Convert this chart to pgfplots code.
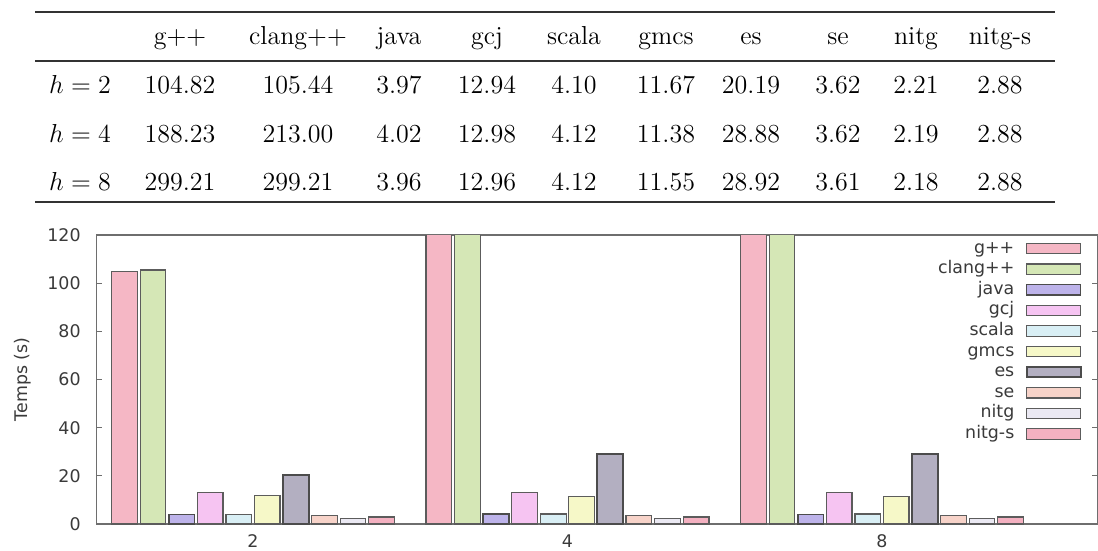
\documentclass[border=0pt]{standalone}
\usepackage{fix-cm}
\usepackage{pgfplots}
\pgfplotsset{compat=1.18}
\usepackage{fontspec}
\newfontfamily\dejavu{DejaVu Sans}
\definecolor{cgpp}{HTML}{F5B7C5}
\definecolor{cclang}{HTML}{D5E7B6}
\definecolor{cjava}{HTML}{BDB3EA}
\definecolor{cgcj}{HTML}{F6C4F2}
\definecolor{cscala}{HTML}{D9EFF5}
\definecolor{cgmcs}{HTML}{F6F8C8}
\definecolor{ces}{HTML}{B3AFC1}
\definecolor{cse}{HTML}{F7D3C9}
\definecolor{cnitg}{HTML}{EBE9F3}
\definecolor{cnitgs}{HTML}{F4B1C1}
\definecolor{axgray}{HTML}{6E6E6E}
\definecolor{txgray}{HTML}{3A3A3A}
\definecolor{bdgray}{HTML}{5C5C5C}
\newcommand\chartfont{\dejavu\fontsize{8.7}{10}\selectfont}
\begin{document}
\begin{tikzpicture}
\useasboundingbox (0,0) rectangle (549pt,-275.5pt);
% ---------- table ----------
\begin{scope}[every node/.style={anchor=base, inner sep=0pt, font=\fontsize{13}{15}\selectfont}]
\draw[line width=0.9pt, black!80] (17.5pt,-6pt) -- (527.5pt,-6pt);
\draw[line width=0.6pt, black!80] (17.5pt,-30.5pt) -- (527.5pt,-30.5pt);
\draw[line width=0.9pt, black!80] (17.5pt,-101pt) -- (527.5pt,-101pt);
\foreach \x/\t in {90/g++, 149/clang++, 199.5/java, 243.5/gcj, 287/scala, 333/gmcs, 375.5/es, 419/se, 458/nitg, 500/nitg-s}
  \node at (\x pt,-22.5pt) {\t};
\node at (40pt,-47pt) {$h=2$};
\node at (40pt,-71.3pt) {$h=4$};
\node at (40pt,-95.3pt) {$h=8$};
\foreach \x/\t in {90/104.82, 149/105.44, 199.5/3.97, 243.5/12.94, 287/4.10, 333/11.67, 375.5/20.19, 419/3.62, 458/2.21, 500/2.88}
  \node at (\x pt,-47pt) {\t};
\foreach \x/\t in {90/188.23, 149/213.00, 199.5/4.02, 243.5/12.98, 287/4.12, 333/11.38, 375.5/28.88, 419/3.62, 458/2.19, 500/2.88}
  \node at (\x pt,-71.3pt) {\t};
\foreach \x/\t in {90/299.21, 149/299.21, 199.5/3.96, 243.5/12.96, 287/4.12, 333/11.55, 375.5/28.92, 419/3.61, 458/2.18, 500/2.88}
  \node at (\x pt,-95.3pt) {\t};
\end{scope}
% ---------- chart ----------
\begin{axis}[
  at={(48.35pt,-262pt)}, anchor=south west,
  scale only axis, width=500.2pt, height=144.5pt,
  xmin=-0.497, xmax=2.684, ymin=0, ymax=120,
  xtick={0,1,2}, xticklabels={2,4,8},
  ytick={0,20,...,120},
  /pgf/number format/assume math mode=true,
  bar width=0.0818,
  axis line style={color=axgray, line width=0.6pt},
  tick style={color=axgray, line width=0.6pt},
  major tick length=2.5pt,
  tick align=inside,
  x tick style={draw=none},
  ylabel={Temps (s)},
  ylabel style={at={(axis description cs:-0.074,0.5)}, anchor=center, font=\chartfont, text=txgray},
  ticklabel style={font=\chartfont, text=txgray},
  yticklabel style={xshift=-4.5pt},
  xticklabel style={yshift=-2pt},
  legend plot pos=right,
  legend cell align=right,
  legend image code/.code={\draw[#1] (0pt,-2.6pt) rectangle (27pt,2.6pt);},
  legend style={draw=none, fill=none, at={(1,1)}, anchor=north east,
    xshift=-7.6pt, yshift=-1.4pt, font=\chartfont, text=txgray,
    column sep=4.7pt, row sep=0pt, inner sep=0pt,
    nodes={inner sep=0.9pt, text height=6.5pt, text depth=2pt}},
  every axis plot/.append style={draw=bdgray, line width=0.6pt},
]
\addplot[ybar, bar shift=-0.409, fill=cgpp] coordinates {(0,104.82) (1,188.23) (2,299.21)};
\addplot[ybar, bar shift=-0.318, fill=cclang] coordinates {(0,105.44) (1,213.00) (2,299.21)};
\addplot[ybar, bar shift=-0.227, fill=cjava, draw=black!70, line width=0.9pt] coordinates {(0,3.97) (1,4.02) (2,3.96)};
\addplot[ybar, bar shift=-0.136, fill=cgcj] coordinates {(0,12.94) (1,12.98) (2,12.96)};
\addplot[ybar, bar shift=-0.045, fill=cscala] coordinates {(0,4.10) (1,4.12) (2,4.12)};
\addplot[ybar, bar shift=0.045, fill=cgmcs] coordinates {(0,11.67) (1,11.38) (2,11.55)};
\addplot[ybar, bar shift=0.136, fill=ces, draw=black!70, line width=1pt] coordinates {(0,20.19) (1,28.88) (2,28.92)};
\addplot[ybar, bar shift=0.227, fill=cse] coordinates {(0,3.62) (1,3.62) (2,3.61)};
\addplot[ybar, bar shift=0.318, fill=cnitg] coordinates {(0,2.21) (1,2.19) (2,2.18)};
\addplot[ybar, bar shift=0.409, fill=cnitgs] coordinates {(0,2.88) (1,2.88) (2,2.88)};
\legend{g++,clang++,java,gcj,scala,gmcs,es,se,nitg,nitg-s}
\end{axis}
\end{tikzpicture}
\end{document}
